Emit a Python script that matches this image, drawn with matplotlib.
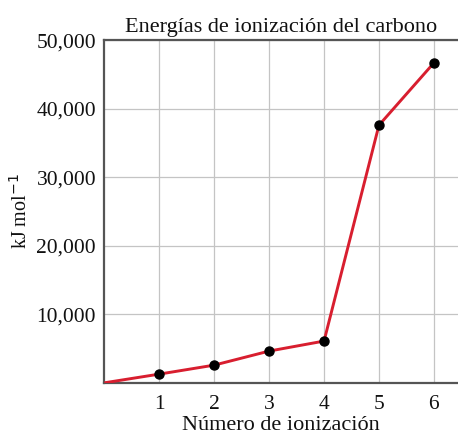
import matplotlib
matplotlib.use("Agg")
import matplotlib.pyplot as plt
from matplotlib.ticker import FuncFormatter

plt.rcParams['font.family'] = ['Liberation Serif', 'DejaVu Serif']

ion_numbers = [1, 2, 3, 4, 5, 6]
energies = [1270, 2580, 4630, 6090, 37580, 46670]
origin_x = [0]
origin_y = [0]
x_ticks = [1, 2, 3, 4, 5, 6]
y_ticks = [10000, 20000, 30000, 40000, 50000]

fig = plt.figure(figsize=(4.58, 4.36), dpi=100)
ax = fig.add_axes([0.228, 0.122, 0.772, 0.786])

ax.plot(origin_x + ion_numbers, origin_y + energies, color='#d81e2f', lw=2.1, zorder=3,
        solid_capstyle='butt')
ax.plot(ion_numbers, energies, 'o', color='black', ms=6.5, zorder=4)

ax.set_xlim(0, 6.44)
ax.set_ylim(0, 50000)
ax.set_xticks(x_ticks)
ax.set_yticks(y_ticks)
ax.yaxis.set_major_formatter(FuncFormatter(lambda v, p: f"{int(v):,}"))
ax.grid(True, color='#c4c4c4', lw=0.9)
ax.set_axisbelow(True)
ax.tick_params(length=0, labelsize=15.5, colors='#111111')
ax.tick_params(axis='x', pad=9)
ax.tick_params(axis='y', pad=6)
for s in ['left', 'top', 'bottom']:
    ax.spines[s].set_color('#555555')
    ax.spines[s].set_linewidth(1.6)
ax.spines['right'].set_visible(False)

ax.set_title('Energías de ionización del carbono', fontsize=16, pad=6, color='#111111')
ax.set_xlabel('Número de ionización', fontsize=16, labelpad=1.5, color='#111111')
ax.set_ylabel('kJ mol$^{-1}$', fontsize=14.5, labelpad=3, color='#111111')

fig.savefig('out.png', dpi=100)
